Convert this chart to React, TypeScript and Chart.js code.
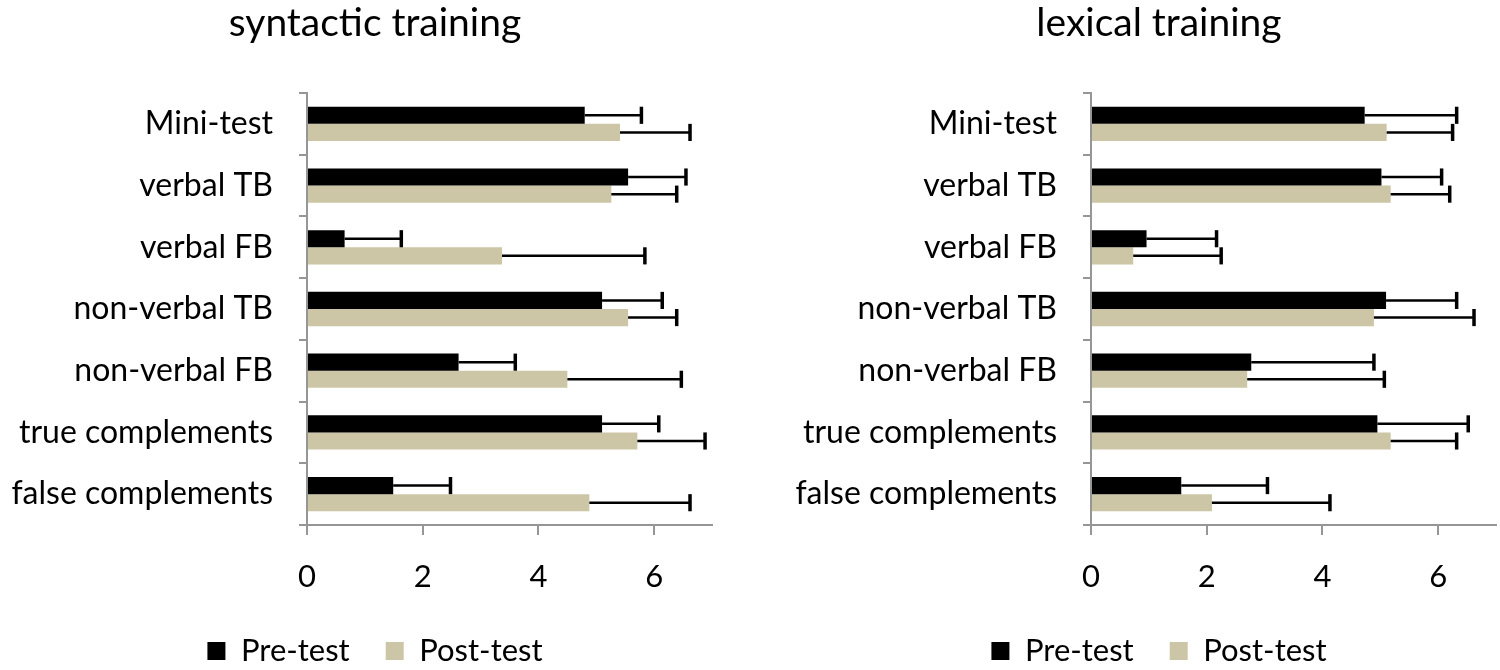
import React, { useEffect, useRef } from "react";
import { Chart, registerables } from "chart.js";

Chart.register(...registerables);

const categories = [
  "Mini-test",
  "verbal TB",
  "verbal FB",
  "non-verbal TB",
  "non-verbal FB",
  "true complements",
  "false complements",
];

const seriesNames = ["Pre-test", "Post-test"];
const xTicks = [0, 2, 4, 6];

// syntactic training
const syntacticPre = [4.8, 5.55, 0.65, 5.1, 2.62, 5.1, 1.49];
const syntacticPreErr = [0.98, 1.0, 0.98, 1.04, 0.98, 0.98, 0.99];
const syntacticPost = [5.41, 5.26, 3.37, 5.55, 4.5, 5.71, 4.88];
const syntacticPostErr = [1.21, 1.13, 2.47, 0.84, 1.97, 1.17, 1.74];

// lexical training
const lexicalPre = [4.73, 5.02, 0.96, 5.1, 2.77, 4.95, 1.56];
const lexicalPreErr = [1.59, 1.04, 1.21, 1.22, 2.12, 1.57, 1.49];
const lexicalPost = [5.11, 5.18, 0.73, 4.89, 2.7, 5.18, 2.09];
const lexicalPostErr = [1.14, 1.02, 1.52, 1.73, 2.37, 1.14, 2.04];

const FONT = "Lato";
const AXIS_GREY = "#969696";

// draws the upper error whisker + cap at the end of each bar
const errorBars = {
  id: "errorBars",
  afterDatasetsDraw(chart: any) {
    const { ctx } = chart;
    const xScale = chart.scales.x;
    chart.data.datasets.forEach((ds: any, i: number) => {
      const meta = chart.getDatasetMeta(i);
      meta.data.forEach((bar: any, j: number) => {
        const end = xScale.getPixelForValue(ds.data[j] + ds.errors[j]);
        const half = bar.height / 2;
        ctx.save();
        ctx.strokeStyle = "#000";
        ctx.lineWidth = 2.5;
        ctx.beginPath();
        ctx.moveTo(bar.x, bar.y);
        ctx.lineTo(end, bar.y);
        ctx.stroke();
        ctx.lineWidth = 3.5;
        ctx.beginPath();
        ctx.moveTo(end, bar.y - half);
        ctx.lineTo(end, bar.y + half);
        ctx.stroke();
        ctx.restore();
      });
    });
  },
};

interface PanelProps {
  title: string;
  pre: number[];
  preErr: number[];
  post: number[];
  postErr: number[];
  left: number;
}

const Panel = ({ title, pre, preErr, post, postErr, left }: PanelProps) => {
  const canvasRef = useRef<HTMLCanvasElement>(null);

  useEffect(() => {
    if (!canvasRef.current) return;
    const chart = new Chart(canvasRef.current, {
      type: "bar",
      data: {
        labels: categories,
        datasets: [
          {
            label: seriesNames[0],
            data: pre,
            errors: preErr,
            backgroundColor: "#000000",
            borderWidth: 0,
            categoryPercentage: 0.555,
            barPercentage: 1,
          } as any,
          {
            label: seriesNames[1],
            data: post,
            errors: postErr,
            backgroundColor: "#CCC6A6",
            borderWidth: 0,
            categoryPercentage: 0.555,
            barPercentage: 1,
          } as any,
        ],
      },
      options: {
        indexAxis: "y",
        responsive: false,
        animation: false,
        layout: {
          padding: { left: 0, right: 0, top: 0, bottom: -6.5 },
        },
        plugins: {
          title: {
            display: true,
            text: title,
            color: "#000",
            font: { family: FONT, size: 39, weight: "normal" },
            padding: { top: 0, bottom: 46.2 },
          },
          legend: {
            position: "bottom",
            labels: {
              color: "#000",
              font: { family: FONT, size: 31 },
              boxWidth: 18,
              boxHeight: 18,
              padding: 36,
            },
          },
          tooltip: { enabled: false },
        },
        scales: {
          x: {
            type: "linear",
            min: 0,
            max: 7,
            bounds: "data",
            afterFit: (scale: any) => {
              scale.height = 74.5;
            },
            afterBuildTicks: (scale: any) => {
              scale.ticks = xTicks.map((v) => ({ value: v }));
            },
            ticks: {
              color: "#000",
              padding: 23,
              font: { family: FONT, size: 31 },
            },
            grid: {
              drawOnChartArea: false,
              drawTicks: true,
              tickLength: 10,
              color: AXIS_GREY,
              lineWidth: 2,
            },
            border: { display: true, color: AXIS_GREY, width: 2 },
          },
          y: {
            afterFit: (scale: any) => {
              scale.width = 307;
            },
            ticks: {
              color: "#000",
              padding: 26,
              font: { family: FONT, size: 32 },
            },
            grid: {
              offset: true,
              drawOnChartArea: false,
              drawTicks: true,
              tickLength: 8,
              color: AXIS_GREY,
              lineWidth: 2,
            },
            border: { display: true, color: AXIS_GREY, width: 2 },
          },
          // empty right-hand box that keeps the plot clear of the canvas edge
          spacer: {
            type: "category",
            axis: "y",
            position: "right",
            labels: [""],
            afterFit: (scale: any) => {
              scale.width = 38;
            },
            ticks: { display: false },
            grid: { display: false },
            border: { display: false },
          },
        },
      } as any,
      plugins: [errorBars],
    });
    return () => chart.destroy();
  }, []);

  return (
    <canvas
      ref={canvasRef}
      width={750}
      height={670}
      style={{ position: "absolute", left, top: 0, display: "block" }}
    />
  );
};

export default function App() {
  return (
    <div
      style={{
        position: "absolute",
        left: 0,
        top: 0,
        width: 1500,
        height: 670,
        overflow: "hidden",
        background: "#fff",
      }}
    >
      <Panel
        title="syntactic training"
        pre={syntacticPre}
        preErr={syntacticPreErr}
        post={syntacticPost}
        postErr={syntacticPostErr}
        left={0}
      />
      <Panel
        title="lexical training"
        pre={lexicalPre}
        preErr={lexicalPreErr}
        post={lexicalPost}
        postErr={lexicalPostErr}
        left={784}
      />
    </div>
  );
}
